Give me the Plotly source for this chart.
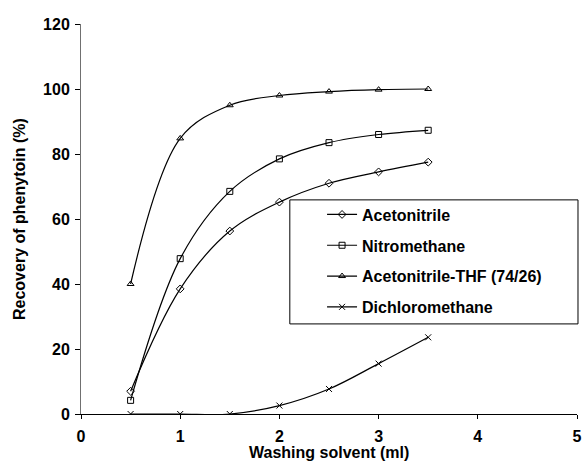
import plotly.graph_objects as go

x_ml = [0.5, 1.0, 1.5, 2.0, 2.5, 3.0, 3.5]
acetonitrile = [7.0, 38.5, 56.3, 65.2, 71.0, 74.5, 77.5]
nitromethane = [4.2, 47.8, 68.5, 78.5, 83.5, 86.0, 87.3]
acn_thf = [40.0, 84.8, 95.0, 98.0, 99.2, 99.8, 100.0]
dichloromethane = [0.0, 0.0, 0.0, 2.6, 7.7, 15.5, 23.6]

series = [
    ("Acetonitrile", acetonitrile, "diamond-open"),
    ("Nitromethane", nitromethane, "square-open"),
    ("Acetonitrile-THF (74/26)", acn_thf, "triangle-up-open"),
    ("Dichloromethane", dichloromethane, "x-thin-open"),
]

FONT = "Liberation Sans, Arial, sans-serif"
BF = dict(family=FONT, size=16, color="black", weight="bold")

fig = go.Figure()
for i, (name, ys, sym) in enumerate(series):
    fig.add_trace(go.Scatter(
        x=x_ml, y=ys, name=name, mode="lines+markers",
        legendgroup=f"g{i}",
        line=dict(color="black", width=1.2, shape="spline", smoothing=1.0),
        marker=dict(symbol=sym, size=6, color="black",
                    line=dict(color="black", width=1)),
    ))

fig.add_shape(type="rect", xref="paper", yref="paper",
              x0=0.421, x1=1.002, y0=0.231, y1=0.549,
              line=dict(color="black", width=1), fillcolor="white", layer="below")

fig.add_annotation(text="Washing solvent (ml)", xref="paper", yref="paper",
                   x=0.5, y=-0.098, xanchor="center", yanchor="middle",
                   showarrow=False, font=BF)
fig.add_annotation(text="Recovery of phenytoin (%)", xref="paper", yref="paper",
                   x=-0.125, y=0.5, xanchor="center", yanchor="middle",
                   textangle=-90, showarrow=False, font=BF)

fig.update_layout(
    width=582, height=461,
    margin=dict(l=81, r=5, t=24, b=47),
    paper_bgcolor="white", plot_bgcolor="white",
    font=BF,
    showlegend=True,
    legend=dict(x=0.486, y=0.555, xanchor="left", yanchor="top",
                bgcolor="rgba(0,0,0,0)", borderwidth=0,
                font=BF, tracegroupgap=7, itemwidth=30),
    xaxis=dict(range=[0, 5], tickvals=[0, 1, 2, 3, 4, 5], ticks="outside",
               ticklen=4, tickcolor="black", showline=True, linecolor="black",
               linewidth=1, showgrid=False, zeroline=False, automargin=False,
               tickfont=BF, ticklabelstandoff=4),
    yaxis=dict(range=[0, 120], tickvals=[0, 20, 40, 60, 80, 100, 120],
               ticks="outside", ticklen=5, tickcolor="black", showline=True,
               linecolor="#707070", linewidth=1, showgrid=False, zeroline=False,
               automargin=False, tickfont=BF, ticklabelstandoff=2),
)

fig.write_html(
    "out.html",
    config={"displayModeBar": False},
    post_script="document.body.style.margin='0';document.body.style.overflow='hidden';",
)
